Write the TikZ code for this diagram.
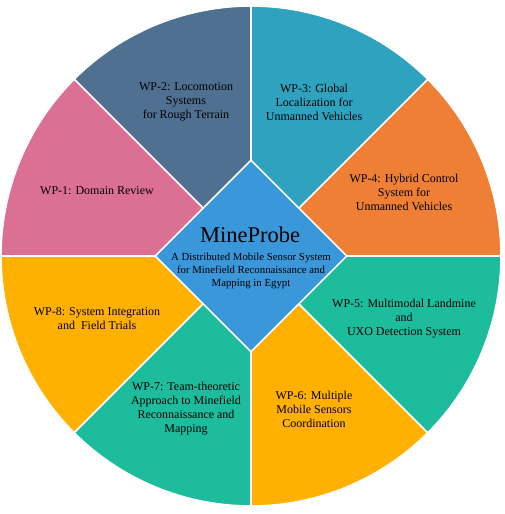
\documentclass[tikz,border=0pt]{standalone}
\usepackage{fontspec}
\setmainfont{Liberation Serif}
\usetikzlibrary{shapes.geometric}
\definecolor{wpone}{HTML}{DC6F94}
\definecolor{wptwo}{HTML}{4F7090}
\definecolor{wpthree}{HTML}{2EA2BF}
\definecolor{wpfour}{HTML}{EE7F34}
\definecolor{wpgreen}{HTML}{1CBC9C}
\definecolor{wpamber}{HTML}{FFB000}
\definecolor{core}{HTML}{3A97DA}

\begin{document}
\begin{tikzpicture}[
  x=1pt,y=1pt,
  font=\fontsize{12}{14}\selectfont,
  slice/.style={draw=white,line width=1.6pt,line join=round},
  wp/.style={align=center,inner sep=0pt,text=black},
]
\useasboundingbox (-251,-258) rectangle (254,256);

% the eight work packages
\path[slice,fill=wpfour]   (0,0) -- (0:250)   arc[start angle=0,   end angle=45,  radius=250] -- cycle;
\path[slice,fill=wpthree]  (0,0) -- (45:250)  arc[start angle=45,  end angle=90,  radius=250] -- cycle;
\path[slice,fill=wptwo]    (0,0) -- (90:250)  arc[start angle=90,  end angle=135, radius=250] -- cycle;
\path[slice,fill=wpone]    (0,0) -- (135:250) arc[start angle=135, end angle=180, radius=250] -- cycle;
\path[slice,fill=wpamber]  (0,0) -- (180:250) arc[start angle=180, end angle=225, radius=250] -- cycle;
\path[slice,fill=wpgreen]  (0,0) -- (225:250) arc[start angle=225, end angle=270, radius=250] -- cycle;
\path[slice,fill=wpamber]  (0,0) -- (270:250) arc[start angle=270, end angle=315, radius=250] -- cycle;
\path[slice,fill=wpgreen]  (0,0) -- (315:250) arc[start angle=315, end angle=360, radius=250] -- cycle;

\node[wp] (wp1) at (-154,65) {WP-1: Domain Review};
\node[wp] (wp2) at (-65,154) {WP-2: Locomotion\\Systems\\for Rough Terrain};
\node[wp] (wp3) at (63,154) {WP-3: Global\\Localization for\\Unmanned Vehicles};
\node[wp] (wp4) at (153,64) {WP-4: Hybrid Control\\System for\\Unmanned Vehicles};
\node[wp] (wp5) at (153,-63) {WP-5: Multimodal Landmine\\and\\UXO Detection System};
\node[wp] (wp6) at (63,-153) {WP-6: Multiple\\Mobile Sensors\\Coordination};
\node[wp] (wp7) at (-65,-153) {WP-7: Team-theoretic\\Approach to Minefield\\Reconnaissance and\\Mapping};
\node[wp] (wp8) at (-154,-63) {WP-8: System Integration\\and~ Field Trials};

% project in the middle
\node[diamond,fill=core,draw=white,line width=1.6pt,minimum width=192pt,minimum height=192pt,inner sep=0pt] (core) at (0,0) {};
\node[wp,font=\fontsize{22.5}{26}\selectfont] (title) at (-1,21) {MineProbe};
\node[wp,font=\fontsize{10.8}{12.9}\selectfont] (sub) at (0,-15) {A Distributed Mobile Sensor System\\for Minefield Reconnaissance and\\Mapping in Egypt};
\end{tikzpicture}
\end{document}
